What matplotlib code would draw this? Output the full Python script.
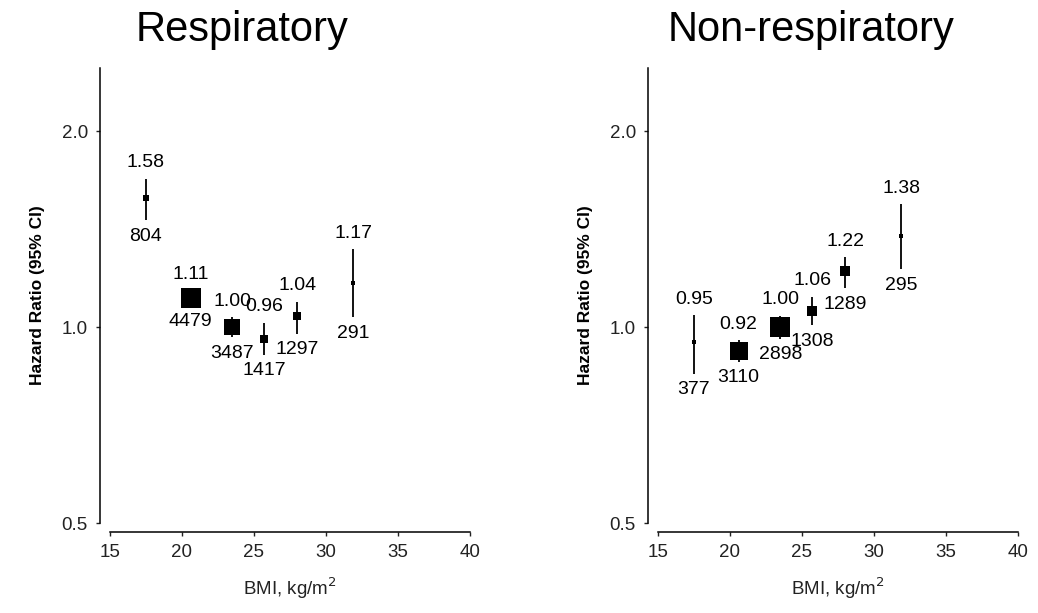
import matplotlib.pyplot as plt
from matplotlib.ticker import FixedLocator, NullLocator

plt.rcParams['font.family'] = ['Liberation Sans', 'DejaVu Sans']

# BMI group midpoints (same for both outcomes)
bmi = [17.5, 20.6, 23.5, 25.7, 28.0, 31.9]

# Respiratory deaths
resp_hr = [1.58, 1.11, 1.00, 0.96, 1.04, 1.17]
resp_lo = [1.46, 1.08, 0.965, 0.906, 0.976, 1.035]
resp_hi = [1.69, 1.14, 1.035, 1.015, 1.094, 1.316]
resp_n = [804, 4479, 3487, 1417, 1297, 291]

# Non-respiratory deaths
nonresp_hr = [0.95, 0.92, 1.00, 1.06, 1.22, 1.38]
nonresp_lo = [0.847, 0.885, 0.96, 1.007, 1.147, 1.226]
nonresp_hi = [1.043, 0.955, 1.04, 1.113, 1.28, 1.545]
nonresp_n = [377, 3110, 2898, 1308, 1289, 295]

# square side in points, per group
resp_box = [4.3, 13.7, 12.2, 5.8, 5.8, 2.2]
nonresp_box = [2.9, 13.0, 14.4, 6.5, 6.5, 2.2]

W, H = 1038, 613
fig = plt.figure(figsize=(W / 100, H / 100), dpi=100)


def panel(left_px, hr, lo, hi, n, box, title, title_x):
    ax = fig.add_axes([left_px / W, (H - 523) / H, 360 / W, (523 - 68) / H])
    ax.set_yscale('log')
    ax.set_xlim(15, 40)
    ax.set_ylim(0.5, 2.5)

    for x, h, l, u, s in zip(bmi, hr, lo, hi, box):
        ax.plot([x, x], [l, u], color='black', lw=1.3, solid_capstyle='butt', zorder=2)
        ax.plot(x, h, marker='s', ms=s, color='black', mec='black', mew=0, zorder=3)

    for x, h, l, u, k in zip(bmi, hr, lo, hi, n):
        ax.annotate(f'{h:.2f}', (x, u), xytext=(0, 11.5), textcoords='offset points',
                    ha='center', va='center', fontsize=14)
        ax.annotate(f'{k}', (x, l), xytext=(0, -11.5), textcoords='offset points',
                    ha='center', va='center', fontsize=14)

    # R-style detached axes
    for side in ['top', 'right']:
        ax.spines[side].set_visible(False)
    ax.spines['left'].set_position(('outward', 7.2))
    ax.spines['bottom'].set_position(('outward', 6.5))
    ax.spines['left'].set_bounds(0.5, 2.5)
    ax.spines['bottom'].set_bounds(15, 40)
    ax.spines['left'].set_linewidth(1.1)
    ax.spines['bottom'].set_linewidth(1.1)

    ax.yaxis.set_major_locator(FixedLocator([0.5, 1.0, 2.0]))
    ax.yaxis.set_minor_locator(NullLocator())
    ax.set_yticklabels(['0.5', '1.0', '2.0'])
    ax.set_xticks([15, 20, 25, 30, 35, 40])
    ax.tick_params(axis='both', direction='out', length=2.8, width=1.0,
                   labelsize=13.5, pad=6.0, colors='#222222')

    ax.set_xlabel('BMI, kg/m$^2$', fontsize=13.5, labelpad=10, color='#222222')
    ax.set_ylabel('Hazard Ratio (95% CI)', fontsize=12.5, fontweight='bold', labelpad=12)

    fig.text(title_x / W, 1 - 30 / H, title, fontsize=30, ha='center', va='center')
    return ax


panel(110, resp_hr, resp_lo, resp_hi, resp_n, resp_box, 'Respiratory', 242)
panel(658, nonresp_hr, nonresp_lo, nonresp_hi, nonresp_n, nonresp_box, 'Non-respiratory', 811)

plt.savefig('out.png', dpi=100)
